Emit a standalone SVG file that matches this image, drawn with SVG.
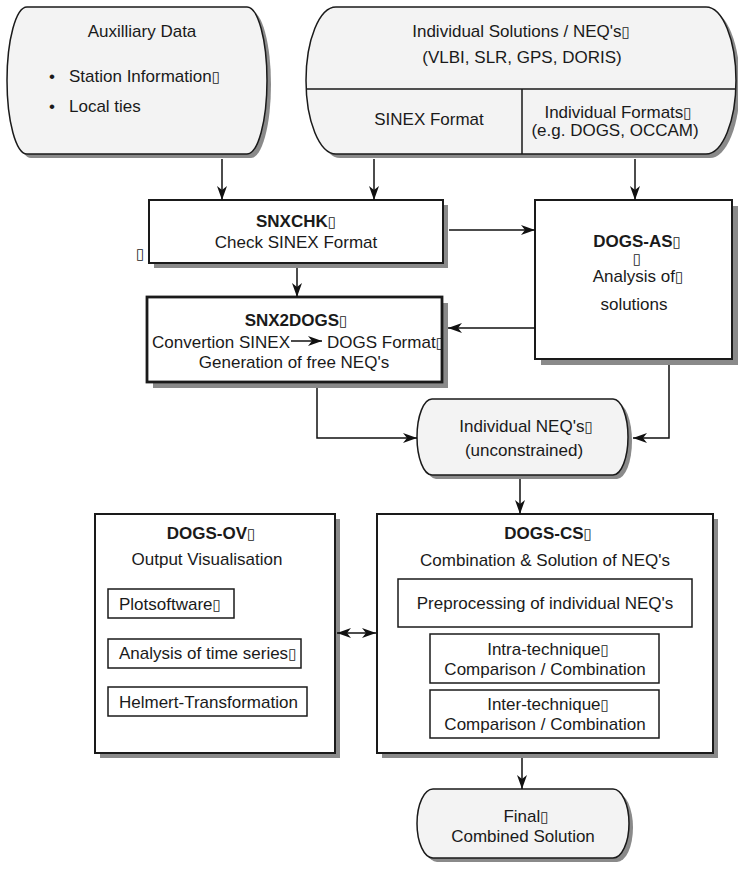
<svg xmlns="http://www.w3.org/2000/svg" width="738" height="871" viewBox="0 0 738 871">
  <defs>
    <style>
      .sh { fill: #8a8a8a; }
      .rs { fill: #f3f3f3; stroke: #1a1a1a; stroke-width: 1.5; }
      .box { fill: #ffffff; stroke: #1a1a1a; stroke-width: 2; }
      .thick { stroke-width: 2.8; }
      .sub { fill: #ffffff; stroke: #1a1a1a; stroke-width: 1.5; }
      .div { stroke: #1a1a1a; stroke-width: 1.5; fill: none; }
      .conn { stroke: #111111; stroke-width: 1.5; fill: none; }
      text { font-family: "Liberation Sans", Arial, sans-serif; font-size: 17px; fill: #1a1a1a; }
      .c { text-anchor: middle; }
      .e { text-anchor: end; }
      .b { font-weight: bold; }
      .tofu { font-family: "DejaVu Sans", sans-serif; font-size: 15px; font-weight: normal; }
    </style>
    <marker id="arr" viewBox="0 0 14 10" markerWidth="14" markerHeight="10" refX="14" refY="5" orient="auto-start-reverse" markerUnits="userSpaceOnUse">
      <path d="M0,0 L14,5 L0,10 L4,5 Z" fill="#111111"/>
    </marker>
  </defs>

  <!-- Auxilliary data (input store) -->
  <g id="aux">
    <path class="sh" d="M31,11 H251 A20 73.5 0 0 1 251,158 H31 A20 73.5 0 0 1 31,11 Z"/>
    <path class="rs" d="M27,7 H247 A20 73.5 0 0 1 247,154 H27 A20 73.5 0 0 1 27,7 Z"/>
    <text class="c" x="142" y="37">Auxilliary Data</text>
    <text x="49" y="82">•</text>
    <text x="69" y="82">Station Information<tspan class="tofu">▯</tspan></text>
    <text x="49" y="112">•</text>
    <text x="69" y="112">Local ties</text>
  </g>

  <!-- Individual solutions (input store) -->
  <g id="solutions">
    <path class="sh" d="M340,11 H710 A30 73.5 0 0 1 710,158 H340 A30 73.5 0 0 1 340,11 Z"/>
    <path class="rs" d="M336,7 H706 A30 73.5 0 0 1 706,154 H336 A30 73.5 0 0 1 336,7 Z"/>
    <path class="div" d="M306.3,89 H735.7 M522,89 V154"/>
    <text class="c" x="521" y="37">Individual Solutions / NEQ's<tspan class="tofu">▯</tspan></text>
    <text class="c" x="522" y="63">(VLBI, SLR, GPS, DORIS)</text>
    <text class="c" x="429" y="125">SINEX Format</text>
    <text class="c" x="618" y="118">Individual Formats<tspan class="tofu">▯</tspan></text>
    <text class="c" x="615" y="136">(e.g. DOGS, OCCAM)</text>
  </g>

  <!-- SNXCHK -->
  <g id="snxchk">
    <rect class="sh" x="154" y="205" width="294" height="63"/>
    <rect class="box" x="149" y="200" width="294" height="63"/>
    <text class="c b" x="296" y="227">SNXCHK<tspan class="tofu">▯</tspan></text>
    <text class="c" x="296" y="248">Check SINEX Format</text>
    <text x="136" y="259" class="tofu">▯</text>
  </g>

  <!-- DOGS-AS -->
  <g id="dogs-as">
    <rect class="sh" x="541" y="206" width="197" height="159"/>
    <rect class="box" x="535" y="200" width="197" height="159"/>
    <text class="c b" x="637" y="247">DOGS-AS<tspan class="tofu">▯</tspan></text>
    <text class="c tofu" x="637" y="264">▯</text>
    <text class="c" x="638" y="282">Analysis of<tspan class="tofu">▯</tspan></text>
    <text class="c" x="634" y="310">solutions</text>
  </g>

  <!-- SNX2DOGS -->
  <g id="snx2dogs">
    <rect class="sh" x="153" y="303" width="295" height="85"/>
    <rect class="box thick" x="147" y="297" width="295" height="85"/>
    <text class="c b" x="296" y="326">SNX2DOGS<tspan class="tofu">▯</tspan></text>
    <text class="e" x="290" y="348">Convertion SINEX</text>
    <path class="conn" d="M291,341 H322" marker-end="url(#arr)"/>
    <text x="327" y="348">DOGS Format<tspan class="tofu">▯</tspan></text>
    <text class="c" x="294" y="368">Generation of free NEQ's</text>
  </g>

  <!-- Individual NEQ's -->
  <g id="neq">
    <path class="sh" d="M436,403 H617 A15 38 0 0 1 617,479 H436 A15 38 0 0 1 436,403 Z"/>
    <path class="rs" d="M432,399 H613 A15 38 0 0 1 613,475 H432 A15 38 0 0 1 432,399 Z"/>
    <text class="c" x="526" y="432">Individual NEQ's<tspan class="tofu">▯</tspan></text>
    <text class="c" x="524" y="456">(unconstrained)</text>
  </g>

  <!-- DOGS-OV -->
  <g id="dogs-ov">
    <rect class="sh" x="100" y="519" width="240" height="239"/>
    <rect class="box" x="95" y="514" width="240" height="239"/>
    <text class="c b" x="211" y="539">DOGS-OV<tspan class="tofu">▯</tspan></text>
    <text class="c" x="207" y="565">Output Visualisation</text>
    <rect class="sub" x="108" y="589" width="126" height="29"/>
    <text x="119" y="610">Plotsoftware<tspan class="tofu">▯</tspan></text>
    <rect class="sub" x="108" y="639" width="193" height="29"/>
    <text x="119" y="659">Analysis of time series<tspan class="tofu">▯</tspan></text>
    <rect class="sub" x="108" y="687" width="199" height="29"/>
    <text x="119" y="708">Helmert-Transformation</text>
  </g>

  <!-- DOGS-CS -->
  <g id="dogs-cs">
    <rect class="sh" x="382" y="519" width="336" height="239"/>
    <rect class="box" x="377" y="514" width="336" height="239"/>
    <text class="c b" x="548" y="539">DOGS-CS<tspan class="tofu">▯</tspan></text>
    <text class="c" x="545" y="566">Combination &amp; Solution of NEQ's</text>
    <rect class="sub" x="398" y="579" width="294" height="48"/>
    <text class="c" x="545" y="609">Preprocessing of individual NEQ's</text>
    <rect class="sub" x="430" y="634" width="229" height="49"/>
    <text class="c" x="548" y="655">Intra-technique<tspan class="tofu">▯</tspan></text>
    <text class="c" x="545" y="675">Comparison / Combination</text>
    <rect class="sub" x="430" y="690" width="229" height="48"/>
    <text class="c" x="548" y="710">Inter-technique<tspan class="tofu">▯</tspan></text>
    <text class="c" x="545" y="730">Comparison / Combination</text>
  </g>

  <!-- Final combined solution -->
  <g id="final">
    <path class="sh" d="M437,793 H617 A16 34.5 0 0 1 617,862 H437 A16 34.5 0 0 1 437,793 Z"/>
    <path class="rs" d="M433,789 H613 A16 34.5 0 0 1 613,858 H433 A16 34.5 0 0 1 433,789 Z"/>
    <text class="c" x="526" y="822">Final<tspan class="tofu">▯</tspan></text>
    <text class="c" x="523" y="842">Combined Solution</text>
  </g>

  <!-- Connectors -->
  <g id="connectors">
    <path class="conn" d="M222,159 V200" marker-end="url(#arr)"/>
    <path class="conn" d="M374,159 V200" marker-end="url(#arr)"/>
    <path class="conn" d="M635,159 V200" marker-end="url(#arr)"/>
    <path class="conn" d="M449,230 H535" marker-end="url(#arr)"/>
    <path class="conn" d="M297,268 V297" marker-end="url(#arr)"/>
    <path class="conn" d="M535,328 H448" marker-end="url(#arr)"/>
    <path class="conn" d="M317,388 V438 H417" marker-end="url(#arr)"/>
    <path class="conn" d="M669,365 V438 H633" marker-end="url(#arr)"/>
    <path class="conn" d="M520,479 V514" marker-end="url(#arr)"/>
    <path class="conn" d="M337,633 H376" marker-start="url(#arr)" marker-end="url(#arr)"/>
    <path class="conn" d="M522,758 V789" marker-end="url(#arr)"/>
  </g>
</svg>
